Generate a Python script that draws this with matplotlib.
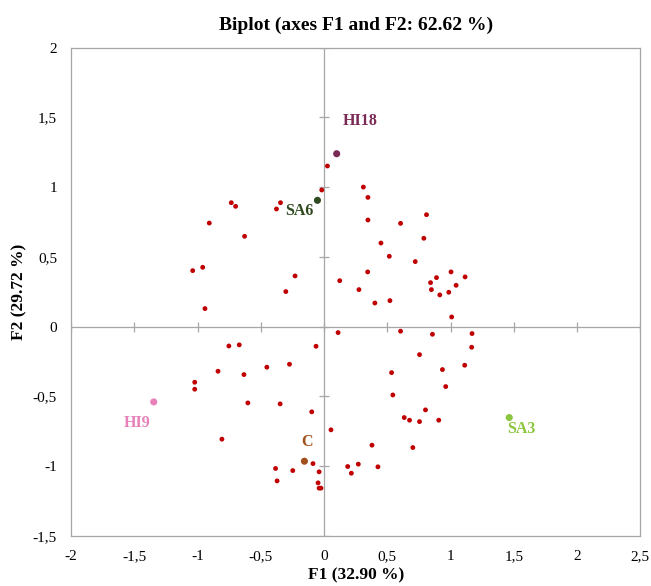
import numpy as np
import matplotlib
matplotlib.use("Agg")
import matplotlib.pyplot as plt

# observations (unlabelled, red)
obs_x = [0.027, -0.018, -0.344, -0.376, -0.733, -0.699, -0.907, -0.628, -1.038, -0.959,
         -0.229, -0.302, -0.941,
         0.311, 0.347, 0.347, 0.810, 0.605, 0.450, 0.789, 0.516, 0.721, 0.345, 0.124,
         0.276, 0.402, 0.521, 0.889, 1.004, 1.115, 0.842, 1.044, 0.849, 0.915, 0.986, 1.009,
         -0.063, -0.752, -0.670, -0.838, -0.633, -0.452, -0.273, -1.022, -1.022, -0.602,
         -0.347, -0.097, -0.807, -0.087, -0.383, -0.247, -0.039, -0.371, -0.047, -0.039,
         -0.024, 0.055,
         0.111, 0.605, 0.857, 1.170, 1.167, 0.755, 1.112, 0.534, 0.936, 0.962, 0.544,
         0.802, 0.634, 0.676, 0.755, 0.907, 0.379, 0.702, 0.187, 0.271, 0.426, 0.216]
obs_y = [1.152, 0.980, 0.889, 0.844, 0.889, 0.863, 0.743, 0.648, 0.402, 0.426,
         0.364, 0.252, 0.130,
         1.001, 0.927, 0.765, 0.803, 0.741, 0.600, 0.634, 0.505, 0.467, 0.393, 0.330,
         0.266, 0.170, 0.187, 0.352, 0.393, 0.357, 0.316, 0.297, 0.266, 0.228, 0.247, 0.070,
         -0.140, -0.138, -0.130, -0.319, -0.343, -0.290, -0.269, -0.398, -0.448, -0.546,
         -0.553, -0.610, -0.806, -0.981, -1.016, -1.031, -1.040, -1.105, -1.119, -1.157,
         -1.157, -0.739,
         -0.042, -0.032, -0.054, -0.049, -0.147, -0.200, -0.276, -0.329, -0.307, -0.429,
         -0.489, -0.596, -0.651, -0.670, -0.680, -0.670, -0.849, -0.866, -1.002, -0.985,
         -1.004, -1.050]

# highlighted observations
lab_names = ["HI18", "SA6", "HI9", "C", "SA3"]
lab_x = [0.100, -0.052, -1.346, -0.155, 1.464]
lab_y = [1.240, 0.906, -0.539, -0.964, -0.651]
lab_colors = ["#7a2a55", "#2f4a1e", "#e880ba", "#a0501a", "#8cc63e"]
lab_tx = [0.284, -0.194, -1.475, -0.136, 1.557]
lab_ty = [1.476, 0.829, -0.689, -0.825, -0.732]

xticks = [-2, -1.5, -1, -0.5, 0, 0.5, 1, 1.5, 2, 2.5]
yticks = [-1.5, -1, -0.5, 0, 0.5, 1, 1.5, 2]

plt.rcParams['font.family'] = ['Liberation Serif', 'DejaVu Serif']

fig = plt.figure(figsize=(6.51, 5.86), dpi=100)
ax = fig.add_axes([71 / 651, 50 / 586, 569.3 / 651, 488.3 / 586])

grey = "#a6a6a6"
ax.axhline(0, color=grey, lw=0.9, zorder=1)
ax.axvline(0, color=grey, lw=0.9, zorder=1)
# tick marks sitting on the centre axes
ax.plot(xticks, [0] * len(xticks), ls="none", marker="|", ms=7, mew=0.9, color=grey, zorder=1)
ax.plot([0] * len(yticks), yticks, ls="none", marker="_", ms=7, mew=0.9, color=grey, zorder=1)

ax.scatter(obs_x, obs_y, s=12, color="#c00000", edgecolors="none", zorder=3)
ax.scatter(lab_x, lab_y, s=26, c=lab_colors, edgecolors="none", zorder=3)
for name, tx, ty, c in zip(lab_names, lab_tx, lab_ty, lab_colors):
    ax.text(tx, ty, name, color=c, fontsize=11.5, fontweight="bold", ha="center", va="center")

ax.set_xlim(-2, 2.5)
ax.set_ylim(-1.5, 2)
ax.set_xticks(xticks)
ax.set_yticks(yticks)
fmt = lambda v: ("%g" % v).replace(".", ",")
ax.set_xticklabels([fmt(v) for v in xticks])
ax.set_yticklabels([fmt(v) for v in yticks])
ax.tick_params(axis="x", length=0, labelsize=11, pad=10)
ax.tick_params(axis="y", length=0, labelsize=11, pad=10)
for s in ax.spines.values():
    s.set_color(grey)
    s.set_linewidth(0.9)

ax.set_xlabel("F1 (32.90 %)", fontsize=12.5, fontweight="bold", labelpad=3)
ax.set_ylabel("F2 (29.72 %)", fontsize=12.5, fontweight="bold", labelpad=4)
ax.set_title("Biplot (axes F1 and F2: 62.62 %)", fontsize=14, fontweight="bold", pad=13)

fig.savefig("out.png", dpi=100)
